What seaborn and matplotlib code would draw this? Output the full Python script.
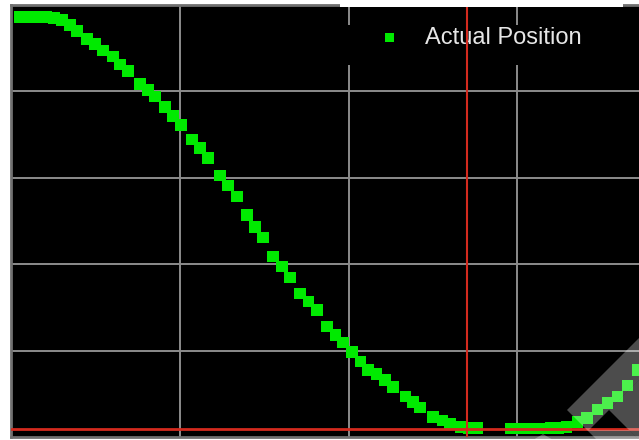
import matplotlib
matplotlib.use("Agg")
import matplotlib.pyplot as plt
from matplotlib.patches import Polygon, Rectangle
import seaborn as sns

# sample positions (x: time, y: position %)
time = [5.3, 11.3, 16.0, 20.7, 25.5, 30.2, 35.0, 39.1, 45.1, 49.8,
        54.5, 60.5, 64.6, 69.4, 76.5, 81.2, 85.4, 91.3, 96.0, 100.8,
        107.3, 112.0, 116.8, 123.9, 128.6, 134.0, 139.9, 144.6, 149.4, 155.3,
        160.6, 165.4, 171.3, 176.1, 181.4, 187.3, 192.1, 196.8, 202.1, 206.9,
        211.6, 216.4, 221.7, 226.4, 233.6, 238.3, 242.4, 250.1, 255.5, 260.2,
        266.2, 270.9, 276.2,
        295.8, 300.5, 305.3, 310.0, 314.8, 319.5, 324.2, 329.0, 335.5, 341.4,
        347.4, 353.3, 359.2, 365.2, 371.1]
position = [97.2, 97.2, 97.2, 97.2, 97.0, 96.5, 95.4, 94.0, 92.1, 91.0,
            89.4, 88.0, 86.3, 84.7, 81.7, 80.3, 78.9, 76.4, 74.3, 72.2,
            68.8, 66.9, 64.6, 60.6, 58.3, 55.6, 51.4, 48.6, 46.1, 41.7,
            39.4, 37.0, 33.3, 31.3, 29.4, 25.5, 23.6, 21.8, 19.7, 17.4,
            15.5, 14.6, 13.2, 11.6, 9.3, 8.1, 6.9, 4.6, 3.9, 3.2,
            2.3, 2.1, 2.1,
            1.9, 1.9, 1.9, 1.9, 1.9, 2.1, 2.1, 2.3, 3.5, 4.4,
            6.3, 7.9, 9.3, 12.0, 15.5]
cursor_x = 270.3
cursor_y = 1.85
series_label = "Actual Position"

W, H = 639, 440
sns.set_style("dark", {"axes.facecolor": "black", "grid.color": "#8c8c8c",
                       "axes.edgecolor": "#707070"})

fig = plt.figure(figsize=(W / 100, H / 100), dpi=100, facecolor="white")


def fig_xy(px, py):
    return px / W, 1 - py / H


# axes runs off the right edge of the picture, like the original
ax = fig.add_axes([11 / W, 3 / H, 675 / W, 432 / H])
ax.set_xlim(0, 400)
ax.set_ylim(0, 100)
ax.set_xticks([100, 200, 300])
ax.set_yticks([20, 40, 60, 80])
ax.tick_params(length=0, labelbottom=False, labelleft=False)
ax.grid(True, color="#8c8c8c", lw=1.4)
ax.set_axisbelow(True)
for sp in ax.spines.values():
    sp.set_color("#707070")
    sp.set_linewidth(2)

sns.scatterplot(x=time, y=position, marker="s", s=66, color="#00ea00",
                edgecolor="none", label=series_label, ax=ax, zorder=3)

# black box behind the legend hides the grid
ax.add_patch(Rectangle(fig_xy(343, 65), 280 / W, 40 / H,
                       transform=fig.transFigure, facecolor="black",
                       edgecolor="none", zorder=1))
leg = ax.legend(loc="upper left", bbox_to_anchor=fig_xy(366, 15),
                bbox_transform=fig.transFigure, frameon=False,
                borderpad=0, handlelength=1.0, handletextpad=1.0,
                markerscale=0.75,
                prop={"family": "Liberation Sans", "size": 17},
                labelcolor="#e6e6e6")

ax.axvline(cursor_x, color="#d42a1e", lw=1.5, zorder=6)
ax.axhline(cursor_y, color="#d42a1e", lw=2, zorder=6)

# white gap in the top border above the legend
fig.patches.append(Rectangle(fig_xy(340, 7.5), 283 / W, 4.5 / H,
                             transform=fig.transFigure, facecolor="white",
                             edgecolor="none", zorder=10))

# translucent watermark in the lower right corner
shapes = [
    [(567, 410), (639, 338), (639, 380), (609, 410), (589, 430), (587, 430)],
    [(609, 410), (639, 380), (639, 440)],
    [(587, 430), (629, 430), (639, 440), (597, 440)],
    [(533, 440), (543, 434), (553, 440)],
]
for pts in shapes:
    fig.patches.append(Polygon([fig_xy(*p) for p in pts], closed=True,
                               transform=fig.transFigure, facecolor="white",
                               edgecolor="none", alpha=0.3, zorder=10))

fig.savefig("out.png", dpi=100)
